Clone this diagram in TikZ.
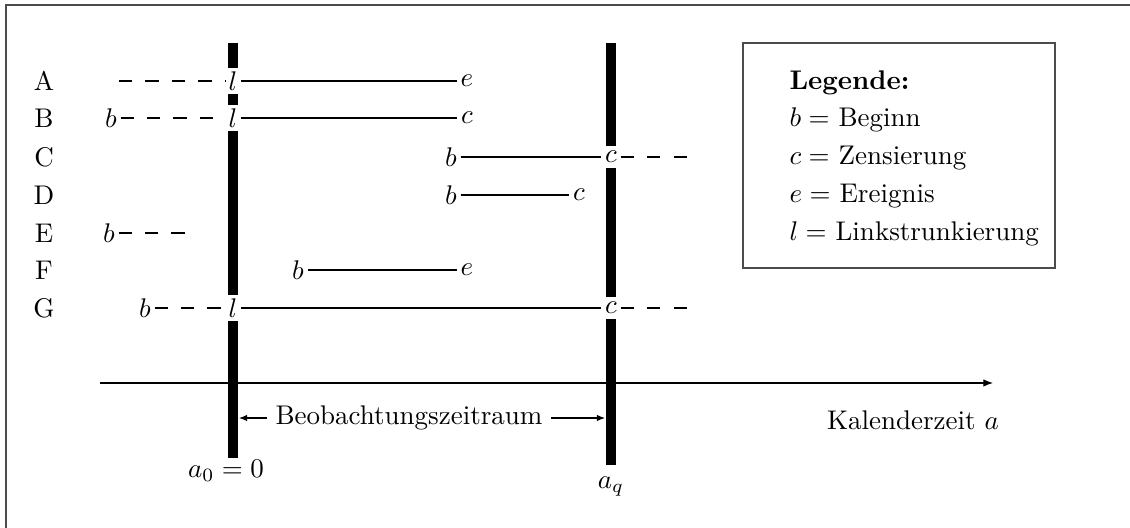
\documentclass[tikz,border=0pt]{standalone}
\usetikzlibrary{arrows.meta}
\begin{document}
\begin{tikzpicture}[x=0.3704pt,y=-0.3704pt,
  bar/.style={line width=4.07pt},
  thin/.style={line width=0.4pt},
  dsh/.style={line width=0.4pt,dash pattern=on 4.9pt off 4.9pt},
  pt/.style={inner sep=1.2pt,minimum height=8.4pt,fill=white},
  rowlbl/.style={inner sep=0pt},
  legtxt/.style={anchor=base west,inner sep=0pt}]
\useasboundingbox (0,0) rectangle (1130,528);
% frame
\coordinate (fTL) at (6,5);
\coordinate (fTR) at (1130,5);
\coordinate (fBL) at (6,528);
\draw[line width=0.75pt,black!70] (fTR) -- (fTL) -- (fBL);
% bars
\coordinate (L0t) at (233,43); \coordinate (L0b) at (233,458);
\coordinate (Lqt) at (611,43); \coordinate (Lqb) at (611,465);
\draw[bar] (L0t) -- (L0b);
\draw[bar] (Lqt) -- (Lqb);
% row labels
\node[rowlbl] (rA) at (44,81) {A};
\node[rowlbl] (rB) at (44,118) {B};
\node[rowlbl] (rC) at (44,157) {C};
\node[rowlbl] (rD) at (44,195) {D};
\node[rowlbl] (rE) at (44,233) {E};
\node[rowlbl] (rF) at (44,270) {F};
\node[rowlbl] (rG) at (44,308) {G};
% row A
\coordinate (sA) at (119,81);
\node[pt] (lA) at (233,81) {$l$};
\node[pt] (eA) at (467,81) {$e$};
\draw[dsh] (sA) -- (lA);
\draw[thin] (lA) -- (eA);
% row B
\node[pt] (bB) at (111,118) {$b$};
\node[pt] (lB) at (233,118) {$l$};
\node[pt] (cB) at (467,118) {$c$};
\draw[dsh] (bB) -- (lB);
\draw[thin] (lB) -- (cB);
% row C
\node[pt] (bC) at (451,157) {$b$};
\node[pt] (cC) at (611,157) {$c$};
\coordinate (eC) at (687,157);
\draw[thin] (bC) -- (cC);
\draw[dsh] (cC) -- (eC);
% row D
\node[pt] (bD) at (451,195) {$b$};
\node[pt] (cD) at (579,195) {$c$};
\draw[thin] (bD) -- (cD);
% row E
\node[pt] (bE) at (109,233) {$b$};
\coordinate (eE) at (186,233);
\draw[dsh] (bE) -- (eE);
% row F
\node[pt] (bF) at (298,270) {$b$};
\node[pt] (eF) at (467,270) {$e$};
\draw[thin] (bF) -- (eF);
% row G
\node[pt] (bG) at (145,308) {$b$};
\node[pt] (lG) at (233,308) {$l$};
\node[pt] (cG) at (611,308) {$c$};
\coordinate (eG) at (687,308);
\draw[dsh] (bG) -- (lG);
\draw[thin] (lG) -- (cG);
\draw[dsh] (cG) -- (eG);
% axis
\coordinate (ax0) at (100,383);
\coordinate (ax1) at (993,383);
\draw[thin,-{Latex[length=3.6pt,width=2.8pt]}] (ax0) -- (ax1);
% period
\node[inner sep=3pt] (per) at (409,418) {Beobachtungszeitraum};
\coordinate (pl) at (239,418);
\coordinate (pr) at (605,418);
\draw[thin,-{Latex[length=3pt,width=2.4pt]}] (per.west) -- (pl);
\draw[thin,-{Latex[length=3pt,width=2.4pt]}] (per.east) -- (pr);
\node (kal) at (913,420) {Kalenderzeit $a$};
\node (a0) at (226,471) {$a_0=0$};
\node (aq) at (611,487) {$a_q$};
% legend
\coordinate (lg1) at (743,43);
\coordinate (lg2) at (1055,268);
\draw[line width=0.6pt,black!70] (lg1) rectangle (lg2);
\node[legtxt] (lgT) at (789,90) {\textbf{Legende:}};
\node[legtxt] (lgB) at (789,127) {$b=$ Beginn};
\node[legtxt] (lgC) at (789,165) {$c=$ Zensierung};
\node[legtxt] (lgE) at (789,203) {$e=$ Ereignis};
\node[legtxt] (lgL) at (789,241) {$l=$ Linkstrunkierung};
\end{tikzpicture}
\end{document}
